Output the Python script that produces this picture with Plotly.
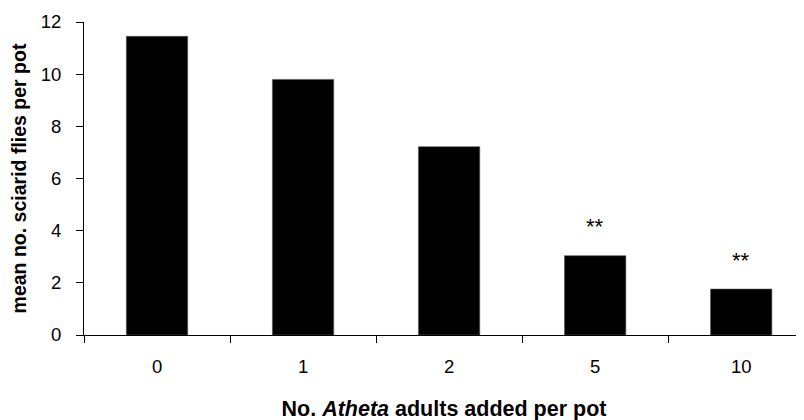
import plotly.graph_objects as go

categories = ["0", "1", "2", "5", "10"]
values = [11.45, 9.8, 7.22, 3.04, 1.76]
significance = ["", "", "", "**", "**"]
y_ticks = [0, 2, 4, 6, 8, 10, 12]

FONT = "Liberation Sans, Arial, sans-serif"

fig = go.Figure()
fig.add_trace(go.Bar(
    x=categories, y=values,
    marker=dict(color="black", line=dict(color="#555555", width=0.6)),
    width=0.42,
    hoverinfo="x+y",
))

for i, (v, s) in enumerate(zip(values, significance)):
    if s:
        fig.add_annotation(x=i, y=v, xref="x", yref="y", text=s, showarrow=False,
                           yshift=29,
                           font=dict(family=FONT, size=22, color="black"))

# the page body has an 8px margin, compensated here
fig.update_layout(
    width=804, height=420,
    margin=dict(l=76, r=8, t=14, b=93),
    plot_bgcolor="white", paper_bgcolor="white",
    showlegend=False,
    font=dict(family=FONT, color="black"),
)
fig.update_xaxes(
    type="category", range=[-0.5, 4.43], automargin=False,
    showline=True, linecolor="black", linewidth=1,
    ticks="outside", tickson="boundaries", ticklen=7, tickcolor="black",
    tickfont=dict(size=18.5), showgrid=False, zeroline=False,
    ticklabelstandoff=15,
    title=dict(text="<b>No. <i>Atheta</i> adults added per pot</b>", font=dict(size=21.5), standoff=24),
)
fig.update_yaxes(
    range=[0, 12], tickvals=y_ticks, automargin=False,
    showline=True, linecolor="black", linewidth=1,
    ticks="outside", ticklen=7, tickcolor="black",
    tickfont=dict(size=18.5), showgrid=False, zeroline=False,
    ticklabelstandoff=11,
    title=dict(text="<b>mean no. sciarid flies per pot</b>", font=dict(size=19.5), standoff=12),
)

fig.write_html("out.html")
